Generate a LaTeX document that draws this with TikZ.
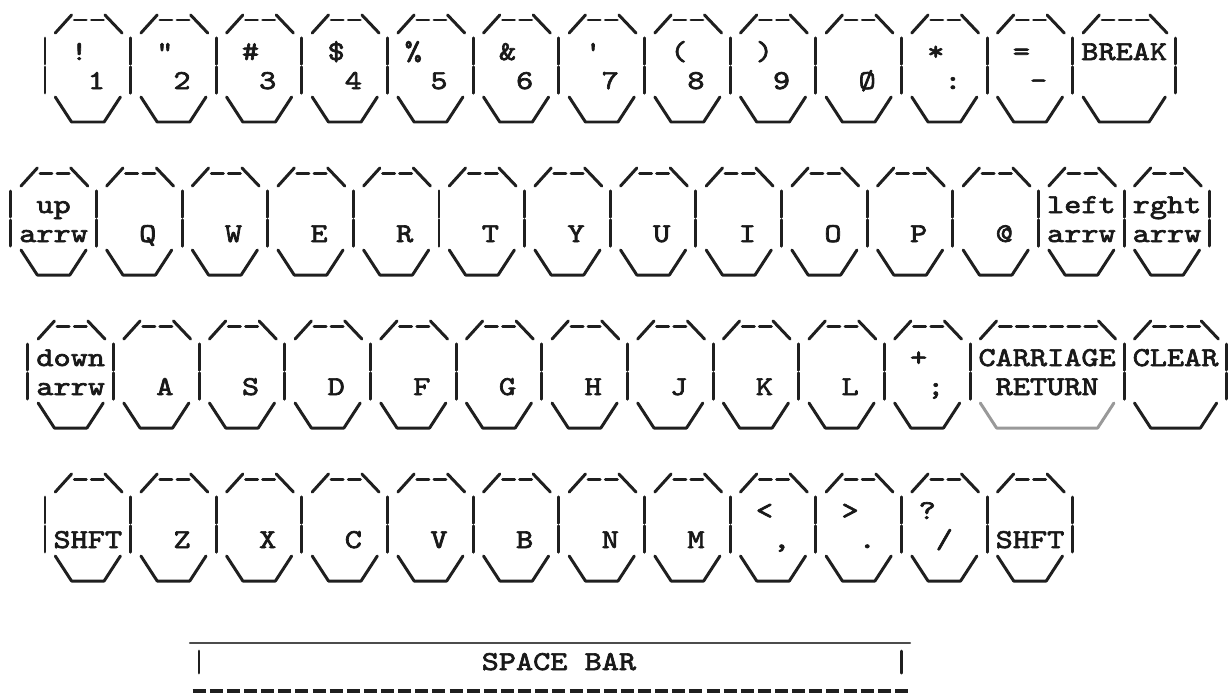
\documentclass[tikz,border=0pt]{standalone}
\usepackage{fontspec}
\setmonofont{lmmono10-regular.otf}[FakeStretch=1.2,FakeBold=2.5]
\usetikzlibrary{calc}
\def\cw{17.13}
\tikzset{
  key line/.style={
    draw=black!88, line width=1.7pt, line cap=round, line join=round
  },
  key label/.style={
    anchor=base, inner sep=0pt, text=black!90,
    font=\ttfamily\fontsize{15.5}{18}\selectfont
  },
  bar dash/.style={
    draw=black!88, line width=2.3pt
  }
}
% one keycap: [bottom colour] column, top line y, width in cells
\newcommand\keycap[4][black!88]{%
  \begin{scope}[shift={({45+\cw*#2},#3)}]
    \pgfmathtruncatemacro\lastdash{#4-2}
    \draw[key line] (0.6*\cw,9) -- (1.55*\cw,-9);
    \foreach \k in {2,...,\lastdash}
      \draw[key line] ({\k*\cw-5},-4) -- ({\k*\cw+7},-4);
    \draw[key line] ({(#4-1.5)*\cw},-9) -- ({(#4-0.5)*\cw},9);
    \foreach \s in {0,#4}{
      \draw[key line] ({\s*\cw},14) -- ({\s*\cw},40);
      \draw[key line] ({\s*\cw},43) -- ({\s*\cw},69);
    }
    \draw[key line, draw=#1] (0.6*\cw,73) -- (1.55*\cw,98)
      -- ({(#4-1.55)*\cw},98) -- ({(#4-0.6)*\cw},73);
  \end{scope}}

\begin{document}
\begin{tikzpicture}[x=0.02cm, y=-0.02cm]
  \useasboundingbox (0,0) rectangle (1228,694);

  % number row
  \foreach \c in {0,5,...,55} \keycap{\c}{24}{5};
  \keycap{60}{24}{6}
  \node[key label] (excl)  at ({45+\cw*2},60)  {!};
  \node[key label] (quot)  at ({45+\cw*7},60)  {"};
  \node[key label] (hash)  at ({45+\cw*12},60) {\#};
  \node[key label] (dolr)  at ({45+\cw*17},60) {\$};
  \node[key label] (perc)  at ({45+\cw*21.5},60) {\%};
  \node[key label] (amp)   at ({45+\cw*27},60) {\&};
  \node[key label] (apos)  at ({45+\cw*32},60) {'};
  \node[key label] (lpar)  at ({45+\cw*37},60) {(};
  \node[key label] (rpar)  at ({45+\cw*42},60) {)};
  \node[key label] (star)  at ({45+\cw*52},60) {*};
  \node[key label] (equal) at ({45+\cw*57},60) {=};
  \node[key label] (break) at ({45+\cw*63},60) {BREAK};
  \foreach \t [count=\i] in {1,2,3,4,5,6,7,8,9,Ø,:,-}
    \node[key label] (d\i) at ({45+\cw*(5*\i-2)},89) {\t};

  % top letter row
  \foreach \c in {-2,3,...,63} \keycap{\c}{177}{5};
  \node[key label] (up)    at ({45+\cw*0.5},213)  {up};
  \node[key label] (upa)   at ({45+\cw*0.5},242)  {arrw};
  \foreach \t [count=\i] in {Q,W,E,R,T,Y,U,I,O,P,@}
    \node[key label] (q\i) at ({45+\cw*(5*\i+1)},242) {\t};
  \node[key label] (left)  at ({45+\cw*60.5},213) {left};
  \node[key label] (lefta) at ({45+\cw*60.5},242) {arrw};
  \node[key label] (rght)  at ({45+\cw*65.5},213) {rght};
  \node[key label] (rghta) at ({45+\cw*65.5},242) {arrw};

  % home row
  \foreach \c in {-1,4,...,49} \keycap{\c}{330}{5};
  \keycap[black!40]{54}{330}{9}
  \keycap{63}{330}{6}
  \node[key label] (down)  at ({45+\cw*1.5},366)  {down};
  \node[key label] (downa) at ({45+\cw*1.5},395)  {arrw};
  \foreach \t [count=\i] in {A,S,D,F,G,H,J,K,L}
    \node[key label] (a\i) at ({45+\cw*(5*\i+2)},395) {\t};
  \node[key label] (plus)  at ({45+\cw*51},366)   {+};
  \node[key label] (semi)  at ({45+\cw*52},395)   {;};
  \node[key label] (carr)  at ({45+\cw*58.5},366) {CARRIAGE};
  \node[key label] (ret)   at ({45+\cw*58.5},395) {RETURN};
  \node[key label] (clear) at ({45+\cw*66},366)   {CLEAR};

  % bottom row
  \foreach \c in {0,5,...,55} \keycap{\c}{483}{5};
  \node[key label] (lshft) at ({45+\cw*2.5},548)  {SHFT};
  \foreach \t [count=\i] in {Z,X,C,V,B,N,M}
    \node[key label] (z\i) at ({45+\cw*(5*\i+3)},548) {\t};
  \node[key label] (less)  at ({45+\cw*42},519)   {<};
  \node[key label] (comma) at ({45+\cw*43},548)   {,};
  \node[key label] (more)  at ({45+\cw*47},519)   {>};
  \node[key label] (dot)   at ({45+\cw*48},548)   {.};
  \node[key label] (quest) at ({45+\cw*51.5},519) {?};
  \node[key label] (slash) at ({45+\cw*52.5},548) {/};
  \node[key label] (rshft) at ({45+\cw*57.5},548) {SHFT};

  % space bar
  \draw[key line, draw=black!70, line width=1.2pt] (190,643) -- (910,643);
  \draw[key line] (199,651) -- (199,673);
  \draw[key line] (901,651) -- (901,673);
  \node[key label] (space) at ({45+\cw*30},670) {SPACE BAR};
  \foreach \k in {9,...,50}
    \draw[bar dash] ({45+\cw*\k-6.5},691) -- ({45+\cw*\k+6.5},691);
\end{tikzpicture}
\end{document}
